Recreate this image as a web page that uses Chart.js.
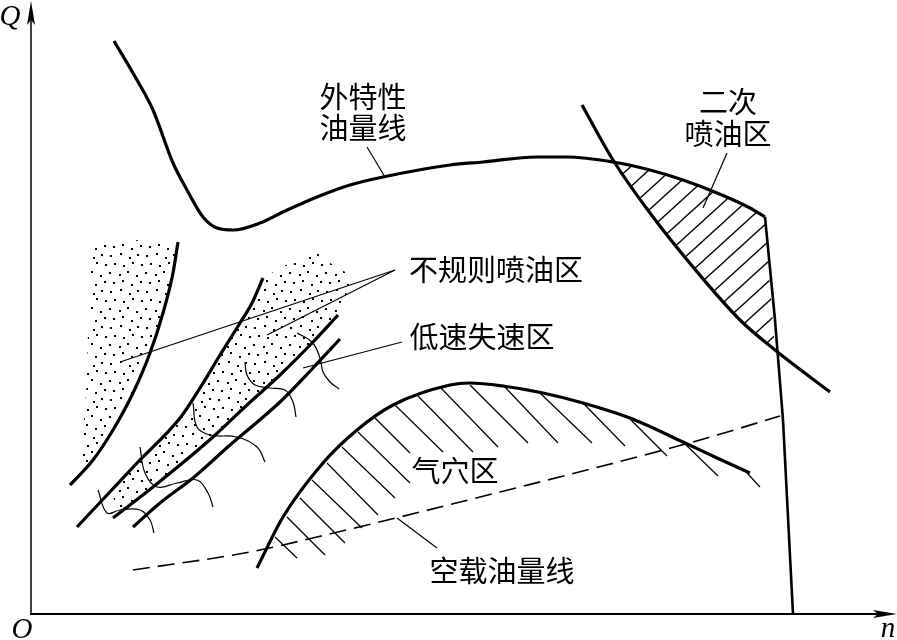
<!DOCTYPE html>
<html><head><meta charset="utf-8">
<script src="https://cdn.jsdelivr.net/npm/chart.js@4/dist/chart.umd.min.js"></script>
<style>html,body{margin:0;padding:0;background:#fff;}#wrap{width:897px;height:640px;position:relative;}</style>
</head><body><div id="wrap"><canvas id="c"></canvas></div>
<script>
// ---- data (n = speed units, Q = fuel quantity units) ----
const outerCurve = [[83,573],[106,534],[122,504],[142,451],[156,424],[172,397],[186,386],[202,384],[229,391],[252,402],[286,417],[319,429],[352,437],[419,449],[452,452],[506,457],[536,457],[582,452],[619,444],[652,434],[686,421],[719,406],[734,397]];
const cutoffLine = [[734,397],[744,294],[752,194],[762,0]];
const secondInjLine = [[551,509],[582,454],[619,401],[662,347],[709,294],[744,264],[799,222]];
const secondInjZone = [[581,453],[619,444],[652,434],[686,421],[719,406],[734,397],[744,264],[709,294],[662,347],[619,401],[581,453]];
const cavitationCurve = [[226,46],[252,97],[292,151],[326,184],[362,209],[419,229],[439,231],[472,228],[512,221],[552,211],[599,196],[652,172],[686,156],[719,141]];
const cavitationHatch = [
  [[244,77],[266,56]],[[256,97],[294,59]],[[269,116],[314,71]],[[281,134],[331,86]],
  [[296,151],[347,99]],[[311,167],[364,116]],[[327,182],[379,131]],[[344,196],[379,161]],
  [[364,209],[412,162]],[[386,219],[442,162]],[[409,227],[467,167]],[[439,229],[497,171]],
  [[472,229],[527,171]],[[509,221],[561,171]],[[552,211],[594,168]],[[599,195],[636,158]],
  [[652,172],[687,138]],[[716,141],[729,127]]
];
const idleLine = [[102,44],[219,62],[286,77],[469,122],[669,174],[749,198]];
const stallLineA = [[39,129],[62,154],[82,184],[102,221],[119,261],[132,301],[142,341],[147,372]];
const stallLineB = [[46,87],[76,119],[106,151],[149,196],[169,226],[189,259],[209,291],[221,311],[232,336]];
const stallLineC = [[82,96],[122,127],[182,177],[216,209],[249,239],[282,272],[307,299]];
const stallLineD = [[102,87],[129,111],[162,136],[199,169],[249,212],[282,246],[309,275]];
const irregularZoneLeft = [[64,371],[109,374],[147,372],[142,341],[132,301],[119,261],[102,221],[82,184],[62,154],[49,144],[51,159],[53,194],[56,234],[57,284],[59,334],[64,371]];
const irregularZoneMid = [[232,336],[221,311],[209,291],[189,259],[169,226],[149,196],[106,151],[79,122],[90,102],[122,127],[182,177],[216,209],[249,239],[282,272],[307,299],[316,322],[319,334],[316,341],[302,349],[286,361],[272,357],[249,346],[232,336]];
const stallArcs = [
  [[266,281],[281,272],[289,256],[292,242],[299,232],[308,225]],
  [[214,252],[216,239],[224,229],[239,226],[254,224],[262,212],[265,197]],
  [[162,211],[166,187],[179,179],[206,177],[226,167],[234,152]],
  [[109,167],[114,141],[126,127],[146,131],[166,134],[177,121],[182,107]],
  [[67,124],[76,101],[89,104],[109,104],[119,94],[123,81]]
];
const leaderLines = [
  [[336,467],[354,437]],
  [[696,461],[672,406]],
  [[364,344],[89,252]],
  [[364,344],[236,279]],
  [[371,272],[272,246]],
  [[366,96],[406,66]]
];
const labelTexts = ['外特性','油量线','二次','喷油区','不规则喷油区','低速失速区','气穴区','空载油量线'];
const labelAnchors = [[332,517],[332,486],[697,512],[697,480],[465,344],[451,277],[424,143],[471,43]];
const axisNames = ['Q','O','n'];

// ---- helpers ----
const xy = pts => pts.map(([n,q]) => ({x:n, y:q}));
function dotPattern(){
  const c=document.createElement('canvas'); c.width=36; c.height=36;
  const g=c.getContext('2d'); g.fillStyle='#000';
  [[2,3],[12,1],[21,5],[29,2],[6,11],[15,13],[24,10],[33,12],[1,20],[11,22],[19,19],[28,23],[5,30],[14,28],[23,32],[32,29]]
    .forEach(([x,y])=>g.fillRect(x,y,2,2));
  return g.createPattern(c,'repeat');
}
function hatchPattern(){
  const w=22,h=20; const c=document.createElement('canvas'); c.width=w; c.height=h;
  const g=c.getContext('2d'); g.strokeStyle='#000'; g.lineWidth=1.3;
  [-1,0,1].forEach(k=>{ g.beginPath(); g.moveTo(-w,2*h+k*h); g.lineTo(2*w,-h+k*h); g.stroke(); });
  return g.createPattern(c,'repeat');
}
const base = {pointRadius:0, pointHoverRadius:0, showLine:true, borderColor:'#000', fill:false, borderCapStyle:'butt'};
const datasets = [];
datasets.push({...base, data:xy(irregularZoneLeft), borderWidth:0, borderColor:'rgba(0,0,0,0)', fill:'shape', backgroundColor:dotPattern(), tension:0});
datasets.push({...base, data:xy(irregularZoneMid), borderWidth:0, borderColor:'rgba(0,0,0,0)', fill:'shape', backgroundColor:dotPattern(), tension:0});
datasets.push({...base, data:xy(secondInjZone), borderWidth:0, borderColor:'rgba(0,0,0,0)', fill:'shape', backgroundColor:hatchPattern(), tension:0});
cavitationHatch.forEach(s=>datasets.push({...base, data:xy(s), borderWidth:1.2, tension:0}));
stallArcs.forEach(s=>datasets.push({...base, data:xy(s), borderWidth:1.2, tension:0.4}));
leaderLines.forEach(s=>datasets.push({...base, data:xy(s), borderWidth:1.2, tension:0}));
datasets.push({...base, data:xy(idleLine), borderWidth:1.6, borderDash:[17,8], cubicInterpolationMode:'monotone'});
[outerCurve, secondInjLine, cavitationCurve, stallLineA, stallLineB, stallLineC, stallLineD].forEach(s=>
  datasets.push({...base, data:xy(s), borderWidth:3.2, cubicInterpolationMode:'monotone'}));
datasets.push({...base, data:xy(cutoffLine), borderWidth:2.6, tension:0, borderJoinStyle:'round'});

const overlay = {
  id:'overlay',
  afterDatasetsDraw(chart){
    const {ctx, chartArea:a, scales:{x:xs, y:ys}} = chart;
    const x0 = xs.getPixelForValue(0), y0 = ys.getPixelForValue(0);
    ctx.save();
    ctx.strokeStyle='#000'; ctx.fillStyle='#000';
    // y axis
    ctx.lineWidth=1.5; ctx.beginPath(); ctx.moveTo(x0,y0+1); ctx.lineTo(x0,a.top+12); ctx.stroke();
    ctx.beginPath(); ctx.moveTo(x0,a.top-1); ctx.lineTo(x0-4,a.top+23); ctx.lineTo(x0,a.top+18); ctx.lineTo(x0+4,a.top+23); ctx.closePath(); ctx.fill();
    // x axis
    ctx.lineWidth=2; ctx.beginPath(); ctx.moveTo(x0-1,y0); ctx.lineTo(a.right-12,y0); ctx.stroke();
    ctx.beginPath(); ctx.moveTo(a.right,y0); ctx.lineTo(a.right-24,y0-4); ctx.lineTo(a.right-19,y0); ctx.lineTo(a.right-24,y0+4); ctx.closePath(); ctx.fill();
    // axis names
    ctx.font='italic 29px "Liberation Serif"'; ctx.textAlign='center'; ctx.textBaseline='middle';
    ctx.fillText(axisNames[0], x0-21, a.top+15);
    ctx.fillText(axisNames[1], x0-9, y0+16);
    ctx.fillText(axisNames[2], a.right-9, y0+15);
    // labels
    ctx.font='29px "Noto Sans CJK SC"';
    labelTexts.forEach((t,i)=>{
      ctx.fillText(t, xs.getPixelForValue(labelAnchors[i][0]), ys.getPixelForValue(labelAnchors[i][1]));
    });
    ctx.restore();
  }
};

new Chart(document.getElementById('c'), {
  type:'scatter',
  data:{datasets},
  options:{
    responsive:true, maintainAspectRatio:false, animation:false, events:[],
    layout:{padding:{left:31, right:0, top:2, bottom:26}},
    plugins:{legend:{display:false}, tooltip:{enabled:false}},
    scales:{
      x:{type:'linear', min:0, max:866, display:false},
      y:{type:'linear', min:0, max:612, display:false}
    }
  },
  plugins:[overlay]
});
</script></body></html>
